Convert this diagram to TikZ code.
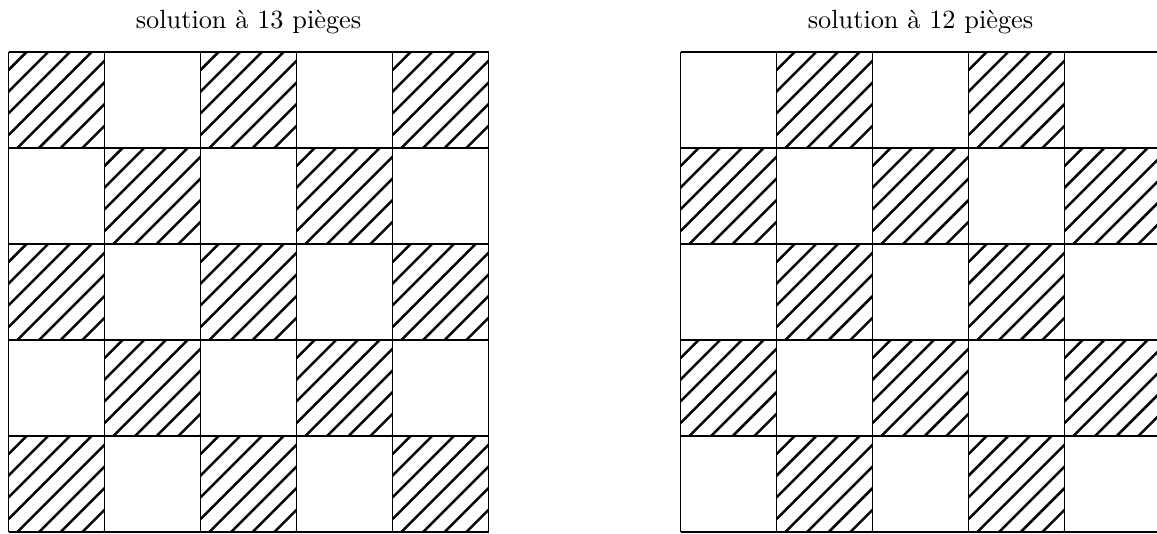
\documentclass[tikz,border=0pt]{standalone}
\begin{document}
\begin{tikzpicture}[x=0.38pt,y=-0.38pt,
  hatch/.style={line width=0.95pt,black},
  gridline/.style={line width=0.4pt,black},
  title/.style={anchor=base,inner sep=0pt,font=\normalsize}]
\useasboundingbox (0,0) rectangle (1157,533);
\clip (0,0) rectangle (1157,533);
\newcommand\hcell[2]{%
  \begin{scope}
    \clip (#1,#2) rectangle ++(96,96);
    \foreach \k in {0,...,8}{
      \pgfmathsetmacro\cc{#1+#2+18+\k*21.7}
      \draw[hatch] ({#1-5},{\cc-#1+5}) -- ({#1+101},{\cc-#1-101});
    }
  \end{scope}}
% left grid: hatched where i+j even; right grid: where i+j odd
\foreach \i in {0,...,4}{
  \foreach \j in {0,...,4}{
    \pgfmathtruncatemacro\pty{mod(\i+\j,2)}
    \ifnum\pty=0
      \pgfmathsetmacro\xx{8.5+96*\i}
      \pgfmathsetmacro\yy{52+96*\j}
      \hcell{\xx}{\yy}
    \fi
    \ifnum\pty=1
      \pgfmathsetmacro\xx{680.5+96*\i}
      \pgfmathsetmacro\yy{52+96*\j}
      \hcell{\xx}{\yy}
    \fi
  }}
\foreach \k in {0,...,5}{
  \draw[gridline] ({8.5+96*\k},52) -- ({8.5+96*\k},532);
  \draw[gridline] (8.5,{52+96*\k}) -- (488.5,{52+96*\k});
  \draw[gridline] ({680.5+96*\k},52) -- ({680.5+96*\k},532);
  \draw[gridline] (680.5,{52+96*\k}) -- (1160.5,{52+96*\k});
}
\node[title] (t1) at (248.5,28.5) {solution à 13 pièges};
\node[title] (t2) at (920.5,28.5) {solution à 12 pièges};
\end{tikzpicture}
\end{document}
